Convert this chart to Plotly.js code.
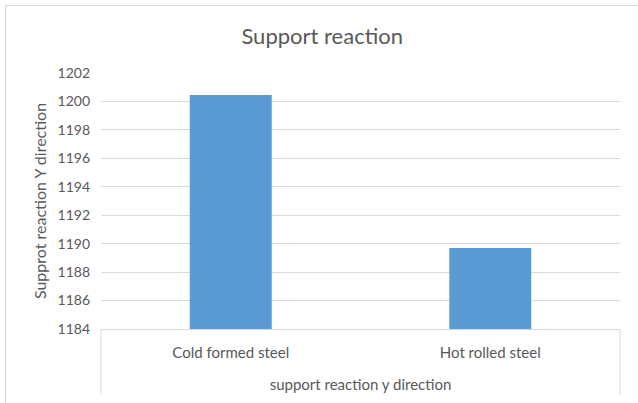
<!DOCTYPE html>
<html>
<head>
<meta charset="utf-8">
<script src="https://cdn.plot.ly/plotly-3.0.1.min.js"></script>
<style>
  html, body { margin: 0; padding: 0; background: #ffffff; }
  #wrap { position: relative; width: 638px; height: 403px; overflow: hidden; }
  #frame { position: absolute; left: 5px; top: 5px; width: 700px; height: 500px;
           border-left: 1px solid #d9d9d9; border-top: 1px solid #d9d9d9; }
  #chart { position: absolute; left: 0; top: 0; width: 638px; height: 403px; }
</style>
</head>
<body>
<div id="wrap">
  <div id="frame"></div>
  <div id="chart"></div>
</div>
<script>
// Support reaction in the Y direction for the two steel types
const groupLabel = "support reaction y direction";
const categories = ["Cold formed steel", "Hot rolled steel"];
const reactions = [1200.45, 1189.7];
const yTicks = [1184, 1186, 1188, 1190, 1192, 1194, 1196, 1198, 1200, 1202];

const textColor = "#595959";
const lineColor = "#d9d9d9";
const fontFamily = "Lato, 'Open Sans', sans-serif";

const trace = {
  type: "bar",
  x: categories,
  y: reactions,
  marker: { color: "#5b9bd5" },
  hoverinfo: "x+y"
};

// Group box: the vertical dividers that close the category label band
const bandDepth = 66 / 256;
const dividers = [0, 1].map(px => ({
  type: "line", xref: "paper", yref: "paper",
  x0: px, x1: px, y0: 0, y1: -bandDepth,
  line: { color: lineColor, width: 1 }
}));

const layout = {
  width: 638,
  height: 403,
  margin: { l: 101, r: 18, t: 73, b: 74 },
  paper_bgcolor: "rgba(0,0,0,0)",
  plot_bgcolor: "rgba(0,0,0,0)",
  bargap: 0.684,
  showlegend: false,
  font: { family: fontFamily, color: textColor, size: 14 },
  shapes: dividers,
  title: {
    text: "Support reaction",
    font: { family: fontFamily, size: 22, color: textColor },
    x: 0.505, xanchor: "center",
    y: 1 - 36 / 403, yref: "container", yanchor: "middle"
  },
  xaxis: {
    type: "category",
    showline: true,
    linecolor: lineColor,
    linewidth: 1,
    showgrid: false,
    ticks: "",
    ticklabelstandoff: 10,
    tickfont: { family: fontFamily, size: 15, color: textColor },
    title: {
      text: groupLabel,
      font: { family: fontFamily, size: 15, color: textColor },
      standoff: 19
    },
    automargin: false
  },
  yaxis: {
    range: [1184, 1202],
    tickvals: yTicks,
    ticktext: yTicks.map(String),
    showgrid: true,
    gridcolor: lineColor,
    gridwidth: 1,
    zeroline: false,
    showline: false,
    ticks: "",
    ticklabelstandoff: 10,
    tickfont: { family: fontFamily, size: 14, color: textColor },
    title: {
      text: "Supprot reaction Y direction",
      font: { family: fontFamily, size: 16, color: textColor },
      standoff: 6
    },
    automargin: false
  }
};

Plotly.newPlot("chart", [trace], layout, { displayModeBar: false, staticPlot: true });
</script>
</body>
</html>
